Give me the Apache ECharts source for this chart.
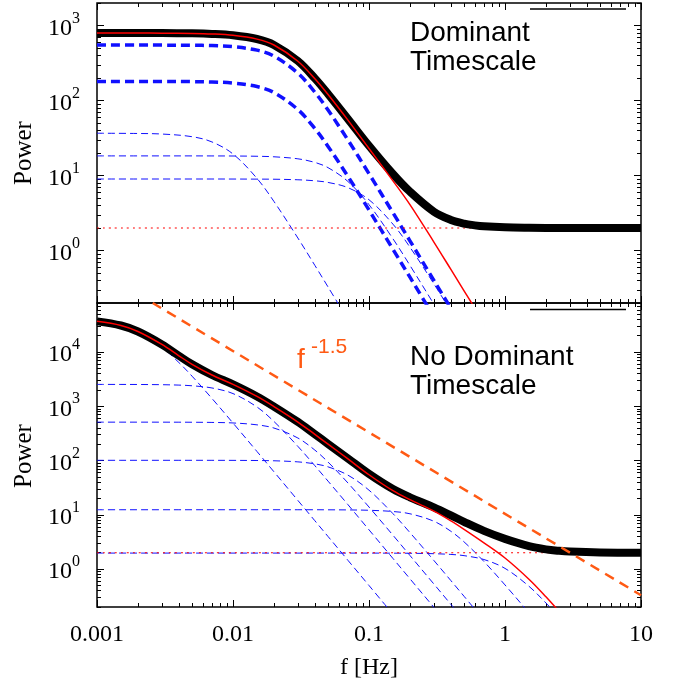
<!DOCTYPE html>
<html><head><meta charset="utf-8">
<script src="https://cdn.jsdelivr.net/npm/echarts@6/dist/echarts.min.js"></script>
<style>html,body{margin:0;padding:0;background:#fff}#c{width:681px;height:689px}</style>
</head><body><div id="c"></div>
<script>
// ---------- data ----------
const xTickLabels = ['0.001', '0.01', '0.1', '1', '10'];
const xMajor = [0.001, 0.01, 0.1, 1, 10];
const yMajorTop = [1, 10, 100, 1000];
const yMajorBot = [1, 10, 100, 1000, 10000];

// top panel ("Dominant Timescale")
const freqTop = [0.001, 0.002, 0.003, 0.005, 0.007, 0.01, 0.015, 0.02, 0.03, 0.04, 0.05, 0.07, 0.1, 0.15, 0.2, 0.3, 0.4, 0.5, 0.6, 0.7, 1, 1.5, 2, 3, 5, 10];
const topTotal = [796, 795.7, 793.9, 787.7, 774.9, 742.9, 662, 552.3, 336.9, 197.5, 122.5, 56.9, 24.96, 10.5, 6.1, 3.3, 2.56, 2.29, 2.17, 2.105, 2.04, 2.01, 2.0, 2.0, 2.0, 2.0];
const topModel = [794, 793.7, 791.9, 785.7, 772.9, 740.9, 660, 550.3, 334.9, 195.5, 120.5, 54.9, 22.96, 8.5, 4.1, 1.3, 0.56, 0.29, 0.17, 0.105];
const topComp1 = [550, 550, 549, 546.5, 540.6, 523, 470, 391, 232, 129, 74.8, 29.8, 10.6, 3.19, 1.35, 0.40, 0.169];
const topComp2 = [180, 180, 179.8, 178.9, 176.9, 171.3, 153.7, 128, 75.9, 42.4, 24.5, 9.75, 3.47, 1.04, 0.442, 0.131];
const topComp3 = [36.7, 36.4, 35.8, 33.0, 28.1, 19.4, 9.18, 4.52, 1.47, 0.634, 0.327, 0.12];
const topComp4 = [18.3, 18.3, 18.3, 18.3, 18.28, 18.24, 18.09, 17.8, 16.73, 14.97, 12.75, 8.34, 4.09, 1.436, 0.635, 0.193, 0.0818];
const topComp5 = [9.0, 9.0, 9.0, 9.0, 9.0, 8.99, 8.97, 8.94, 8.79, 8.52, 8.10, 6.90, 4.76, 2.25, 1.11, 0.36, 0.155];
const noiseFreq = [0.001, 10];
const noiseLevel = [2, 2];

// bottom panel ("No Dominant Timescale")
const freqBot = [0.001, 0.0015, 0.002, 0.003, 0.004, 0.005, 0.007, 0.01, 0.015, 0.02, 0.03, 0.04, 0.05, 0.07, 0.1, 0.15, 0.2, 0.3, 0.4, 0.5, 0.7, 1, 1.5, 2, 2.5, 3, 5, 10];
const botTotal = [36726, 30802, 23872, 13782, 8528, 5939, 3772, 2533, 1519, 989, 514.7, 305.4, 202.2, 109.4, 56.7, 29.8, 21.0, 13.7, 9.75, 7.41, 5.05, 3.60, 2.65, 2.31, 2.17, 2.10, 2.02, 2.0];
const botModel = [36724, 30800, 23870, 13780, 8526, 5937, 3770, 2531, 1517, 987, 512.7, 303.4, 200.2, 107.4, 54.7, 27.8, 19.0, 11.7, 7.75, 5.41, 3.05, 1.60, 0.65, 0.308, 0.165, 0.096];
const botComp1 = [33570, 28940, 22800, 12190, 6394, 3586, 1395, 491, 147, 62.1, 18.4, 7.77, 3.98, 1.45, 0.498, 0.147];
const botComp2 = [2529, 2526, 2520, 2498, 2455, 2388, 2175, 1713, 970, 525, 182.4, 80.3, 41.7, 15.4, 5.29, 1.57, 0.663, 0.197, 0.083];
const botComp3 = [510, 510, 510, 509.5, 508.8, 507.7, 503.8, 492.5, 455, 397, 260, 155.6, 93.6, 38.6, 13.9, 4.21, 1.78, 0.53, 0.224, 0.115];
const botComp4 = [101, 101, 101, 101, 101, 101, 100.9, 100.7, 100.1, 99.0, 94.5, 86.8, 76.5, 53.8, 28.4, 10.5, 4.70, 1.44, 0.613, 0.315, 0.115];
const botComp5 = [12.4, 12.4, 12.4, 12.4, 12.4, 12.4, 12.4, 12.4, 12.4, 12.4, 12.4, 12.4, 12.36, 12.3, 12.12, 11.5, 10.45, 7.61, 4.97, 3.17, 1.378, 0.51, 0.156, 0.066];
const botComp6 = [1.97, 1.97, 1.97, 1.97, 1.97, 1.97, 1.97, 1.97, 1.97, 1.97, 1.97, 1.97, 1.97, 1.97, 1.97, 1.963, 1.956, 1.92, 1.861, 1.768, 1.499, 1.029, 0.482, 0.237, 0.129, 0.0766];
const slopeFreq = [0.00257, 10];
const slopeLevel = [80000, 0.33];

// ---------- chart ----------
const SERIF = 'Liberation Serif';
const zip = (f, v) => v.map((y, i) => [f[i], y]);

function minorTicks(lo, hi, min, max) {
  const out = [];
  for (let e = lo; e <= hi; e++) for (let m = 2; m <= 9; m++) {
    const v = Number((m * Math.pow(10, e)).toPrecision(6));
    if (v >= min && v <= max) out.push(v);
  }
  return out;
}
const xMinor = minorTicks(-3, 0, 0.001, 10);
const yMinorTop = minorTicks(-1, 3, 0.2, 2000);
const yMinorBot = minorTicks(-1, 4, 0.2, 80000);

const common = {
  type: 'log', logBase: 10,
  axisLine: { show: false, onZero: false },
  splitLine: { show: false }, minorTick: { show: false }, minorSplitLine: { show: false }
};
function xAx(grid, pos, ticks, len, labels) {
  return Object.assign({}, common, {
    gridIndex: grid, position: pos, min: 0.001, max: 10,
    axisTick: { show: true, inside: true, length: len, customValues: ticks, lineStyle: { color: '#000', width: 1 } },
    axisLabel: labels ? {
      show: true, customValues: ticks, margin: 16, fontFamily: SERIF, fontSize: 24, color: '#000',
      formatter: v => xTickLabels[Math.round(Math.log10(v)) + 3]
    } : { show: false }
  });
}
function yAx(grid, pos, ticks, len, labels, min, max) {
  return Object.assign({}, common, {
    gridIndex: grid, position: pos, min: min, max: max,
    axisTick: { show: true, inside: true, length: len, customValues: ticks, lineStyle: { color: '#000', width: 1 } },
    axisLabel: labels ? {
      show: true, customValues: ticks, margin: 17, color: '#000',
      formatter: v => '{b|10}{s|' + Math.round(Math.log10(v)) + '}',
      rich: {
        b: { fontFamily: SERIF, fontSize: 24, color: '#000', lineHeight: 30, verticalAlign: 'bottom' },
        s: { fontFamily: SERIF, fontSize: 16, color: '#000', lineHeight: 16, verticalAlign: 'top' }
      }
    } : { show: false }
  });
}

function line(name, xi, data, color, width, type, z) {
  return {
    name: name, type: 'line', xAxisIndex: xi, yAxisIndex: xi, data: data,
    showSymbol: false, symbol: 'none', smooth: 0.35, clip: true,
    silent: true, z: z || 2,
    lineStyle: { color: color, width: width, type: type, cap: 'butt', join: 'round' }
  };
}

const blue = '#1010ff';
const option = {
  animation: false,
  backgroundColor: '#fff',
  grid: [
    { left: 97, right: 40, top: 3, height: 300, show: true, borderColor: '#000', borderWidth: 1.5, backgroundColor: 'transparent', containLabel: false, outerBoundsMode: 'none' },
    { left: 97, right: 40, top: 303, height: 304, show: true, borderColor: '#000', borderWidth: 1.5, backgroundColor: 'transparent', containLabel: false, outerBoundsMode: 'none' }
  ],
  xAxis: [
    xAx(0, 'bottom', xMajor, 7, false),
    xAx(0, 'bottom', xMinor, 4, false),
    xAx(0, 'top', xMajor, 7, false),
    xAx(0, 'top', xMinor, 4, false),
    xAx(1, 'bottom', xMajor, 7, true),
    xAx(1, 'bottom', xMinor, 4, false),
    xAx(1, 'top', xMajor, 7, false),
    xAx(1, 'top', xMinor, 4, false)
  ],
  yAxis: [
    yAx(0, 'left', yMajorTop, 7, true, 0.2, 2000),
    yAx(0, 'left', yMinorTop, 4, false, 0.2, 2000),
    yAx(0, 'right', yMajorTop, 7, false, 0.2, 2000),
    yAx(0, 'right', yMinorTop, 4, false, 0.2, 2000),
    yAx(1, 'left', yMajorBot, 7, true, 0.2, 80000),
    yAx(1, 'left', yMinorBot, 4, false, 0.2, 80000),
    yAx(1, 'right', yMajorBot, 7, false, 0.2, 80000),
    yAx(1, 'right', yMinorBot, 4, false, 0.2, 80000)
  ],
  series: [
    line('t3', 0, zip(freqTop, topComp3), blue, 1, [7, 4]),
    line('t4', 0, zip(freqTop, topComp4), blue, 1, [7, 4]),
    line('t5', 0, zip(freqTop, topComp5), blue, 1, [7, 4]),
    line('t1', 0, zip(freqTop, topComp1), blue, 3.5, [9, 5]),
    line('t2', 0, zip(freqTop, topComp2), blue, 3.5, [9, 5]),
    line('tn', 0, zip(noiseFreq, noiseLevel), '#ff0000', 1.2, [2, 4]),
    line('ttot', 0, zip(freqTop, topTotal), '#000', 8, 'solid', 3),
    line('tmod', 0, zip(freqTop, topModel), '#ff0000', 1.5, 'solid', 4),

    line('b1', 4, zip(freqBot, botComp1), blue, 1, [7, 4]),
    line('b2', 4, zip(freqBot, botComp2), blue, 1, [7, 4]),
    line('b3', 4, zip(freqBot, botComp3), blue, 1, [7, 4]),
    line('b4', 4, zip(freqBot, botComp4), blue, 1, [7, 4]),
    line('b5', 4, zip(freqBot, botComp5), blue, 1, [7, 4]),
    line('b6', 4, zip(freqBot, botComp6), blue, 1, [7, 4]),
    line('bn', 4, zip(noiseFreq, noiseLevel), '#ff0000', 1.2, [2, 4]),
    line('btot', 4, zip(freqBot, botTotal), '#000', 8, 'solid', 3),
    line('bmod', 4, zip(freqBot, botModel), '#ff0000', 1.5, 'solid', 4),
    line('slope', 4, zip(slopeFreq, slopeLevel), '#ff5a14', 2.5, [10, 7], 5)
  ],
  graphic: [
    { type: 'line', shape: { x1: 530, y1: 9, x2: 626, y2: 9 }, style: { stroke: '#000', lineWidth: 1.5 }, z: 10 },
    { type: 'line', shape: { x1: 530, y1: 309.5, x2: 626, y2: 309.5 }, style: { stroke: '#000', lineWidth: 1.5 }, z: 10 },
    { type: 'text', x: 410, y: 33, style: { text: 'Dominant', font: '28px "Liberation Sans"', fill: '#000', align: 'left', verticalAlign: 'middle' }, z: 10 },
    { type: 'text', x: 410, y: 62, style: { text: 'Timescale', font: '28px "Liberation Sans"', fill: '#000', align: 'left', verticalAlign: 'middle' }, z: 10 },
    { type: 'text', x: 410, y: 357.5, style: { text: 'No Dominant', font: '28px "Liberation Sans"', fill: '#000', align: 'left', verticalAlign: 'middle' }, z: 10 },
    { type: 'text', x: 410, y: 386.5, style: { text: 'Timescale', font: '28px "Liberation Sans"', fill: '#000', align: 'left', verticalAlign: 'middle' }, z: 10 },
    { type: 'text', x: 297, y: 360.5, style: { text: 'f', font: '28px "Liberation Sans"', fill: '#ff5a14', align: 'left', verticalAlign: 'middle' }, z: 10 },
    { type: 'text', x: 311, y: 347, style: { text: '-1.5', font: '21px "Liberation Sans"', fill: '#ff5a14', align: 'left', verticalAlign: 'middle' }, z: 10 },
    { type: 'text', x: 24, y: 153, rotation: Math.PI / 2, style: { text: 'Power', font: '25px "Liberation Serif"', fill: '#000', align: 'center', verticalAlign: 'middle' }, z: 10 },
    { type: 'text', x: 24, y: 456, rotation: Math.PI / 2, style: { text: 'Power', font: '25px "Liberation Serif"', fill: '#000', align: 'center', verticalAlign: 'middle' }, z: 10 },
    { type: 'text', x: 369, y: 668, style: { text: 'f [Hz]', font: '24px "Liberation Serif"', fill: '#000', align: 'center', verticalAlign: 'middle' }, z: 10 }
  ]
};
const chart = echarts.init(document.getElementById('c'), null, { renderer: 'canvas' });
chart.setOption(option);
</script>
</body></html>
